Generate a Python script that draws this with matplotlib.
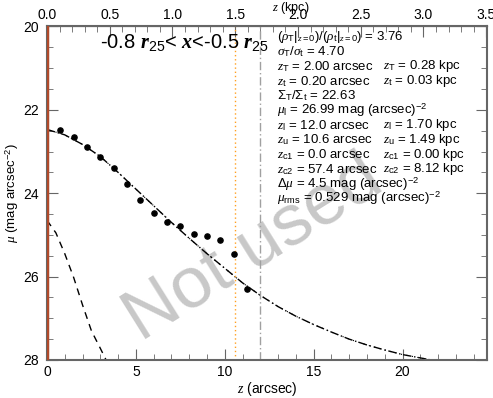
import matplotlib
matplotlib.use('Agg')
import matplotlib.pyplot as plt

plt.rcParams['font.family'] = ['Liberation Sans', 'DejaVu Sans']
plt.rcParams['mathtext.fontset'] = 'custom'
plt.rcParams['mathtext.rm'] = 'Liberation Sans'
plt.rcParams['mathtext.it'] = 'Liberation Serif:italic'
plt.rcParams['mathtext.bf'] = 'Liberation Serif:bold:italic'

# observed profile (arcsec, mag/arcsec^2)
obs_z = [0.75, 1.5, 2.25, 3.0, 3.75, 4.5, 5.25, 6.0, 6.75, 7.5, 8.25, 9.0, 9.75, 10.5, 11.25]
obs_mu = [22.48, 22.66, 22.88, 23.13, 23.39, 23.77, 24.17, 24.47, 24.70, 24.78,
          24.98, 25.02, 25.11, 25.46, 26.30]

# fitted total model
fit_z = [0, 1, 2, 3, 4, 5, 6, 7, 8, 9, 10, 11, 12, 13, 14, 15, 16, 17, 18, 19, 20, 21, 22]
fit_mu = [22.47, 22.60, 22.83, 23.12, 23.50, 23.90, 24.30, 24.70, 25.08, 25.45, 25.80,
          26.15, 26.45, 26.72, 26.95, 27.15, 27.33, 27.50, 27.64, 27.76, 27.87, 27.95, 28.03]

# thin disc component
thin_z = [0, 0.5, 1.0, 1.5, 2.0, 2.5, 3.0, 3.5]
thin_mu = [24.65, 24.95, 25.45, 26.02, 26.68, 27.30, 27.72, 28.15]

z_c1 = 0.0
z_u = 10.6
z_l = 12.0
kpc_per_arcsec = 1.70 / 12.0

lines = [
    r'($\rho_\mathrm{T}$|$_{z=0}$)/($\rho_\mathrm{t}$|$_{z=0}$) = 3.76',
    r'$\sigma_\mathrm{T}$/$\sigma_\mathrm{t}$ = 4.70',
    (r'$z_\mathrm{T}$ = 2.00 arcsec', r'$z_\mathrm{T}$ = 0.28 kpc'),
    (r'$z_\mathrm{t}$ = 0.20 arcsec', r'$z_\mathrm{t}$ = 0.03 kpc'),
    r'$\Sigma_\mathrm{T}$/$\Sigma_\mathrm{t}$ = 22.63',
    r'$\mu_\mathrm{l}$ = 26.99 mag (arcsec)$^{-2}$',
    (r'$z_\mathrm{l}$ = 12.0 arcsec', r'$z_\mathrm{l}$ = 1.70 kpc'),
    (r'$z_\mathrm{u}$ = 10.6 arcsec', r'$z_\mathrm{u}$ = 1.49 kpc'),
    (r'$z_\mathrm{c1}$ = 0.0 arcsec', r'$z_\mathrm{c1}$ = 0.00 kpc'),
    (r'$z_\mathrm{c2}$ = 57.4 arcsec', r'$z_\mathrm{c2}$ = 8.12 kpc'),
    r'$\Delta\mu$ = 4.5 mag (arcsec)$^{-2}$',
    r'$\mu_\mathrm{rms}$ = 0.529 mag (arcsec)$^{-2}$',
]

fig = plt.figure(figsize=(4.93, 3.98), dpi=100)
ax = fig.add_axes([0.0953, 0.0955, 0.8925, 0.838])

# watermark sits behind the data
ax.text((254 - 47) / 440, (360 - 249) / 333.5, 'Not used', transform=ax.transAxes,
        fontsize=52, color='#c8c8c8', rotation=32, ha='center', va='center', zorder=0.5)

ax.plot(thin_z, thin_mu, color='black', lw=1, ls=(0, (5, 4)))
ax.plot(fit_z, fit_mu, color='black', lw=1, ls=(0, (6, 2, 1, 2)))
ax.plot(fit_z, fit_mu, color='black', lw=0.8, ls=(2, (1, 4)))
ax.scatter(obs_z, obs_mu, s=14, color='black', zorder=4)

ax.axvline(z_u, color='#ffa020', lw=1, ls=(0, (1, 2)))
ax.axvline(z_l, color='#a0a0a0', lw=1, ls=(0, (6, 2, 1, 2)))
ax.axvline(z_c1, color='#b04a2a', lw=2.5, zorder=5)

ax.set_xlim(0, 24.75)
ax.set_ylim(28, 20)
ax.set_xticks([0, 5, 10, 15, 20])
ax.set_xticks(range(0, 25), minor=True)
ax.set_yticks([20, 22, 24, 26, 28])
ax.set_yticks([20 + 0.5 * i for i in range(17)], minor=True)
ax.tick_params(which='both', direction='in', color='#666666', labelsize=10, right=True)
ax.tick_params(which='major', length=8)
ax.tick_params(which='minor', length=4)
ax.tick_params(axis='y', which='major', pad=6)
for s in ax.spines.values():
    s.set_color('#666666')
    s.set_linewidth(1.5)

sec = ax.secondary_xaxis('top', functions=(lambda x: x * kpc_per_arcsec,
                                           lambda x: x / kpc_per_arcsec))
sec.set_xticks([0, 0.5, 1.0, 1.5, 2.0, 2.5, 3.0, 3.5])
sec.set_xticklabels(['0.0', '0.5', '1.0', '1.5', '2.0', '2.5', '3.0', '3.5'])
sec.set_xticks([0.1 * i for i in range(36)], minor=True)
sec.tick_params(which='both', direction='in', color='#666666', labelsize=10)
sec.tick_params(which='major', length=8)
sec.tick_params(which='minor', length=4)

ax.set_xlabel(r'$z$ (arcsec)', fontsize=10, labelpad=1)
ax.set_ylabel(r'$\mu$ (mag arcsec$^{-2}$)', fontsize=9.5)
ax.yaxis.set_label_coords(-0.058, 0.5)
fig.text(0.59, 1.0, r'$z$ (kpc)', fontsize=9, ha='center', va='top')

ax.text(0.12, 0.953, r'-0.8 $\mathbf{r}_{25}$< $\mathbf{x}$<-0.5 $\mathbf{r}_{25}$',
        transform=ax.transAxes, fontsize=14.5, va='center')

y0 = 37
dy = 14.7
for i, ln in enumerate(lines):
    ypix = y0 + i * dy
    yf = 1 - ypix / 398
    if isinstance(ln, tuple):
        fig.text(277 / 493, yf, ln[0], fontsize=9.5, va='center')
        fig.text(383 / 493, yf, ln[1], fontsize=9.5, va='center')
    else:
        fig.text(277 / 493, yf, ln, fontsize=9.5, va='center')

fig.savefig('out.png', dpi=100)
